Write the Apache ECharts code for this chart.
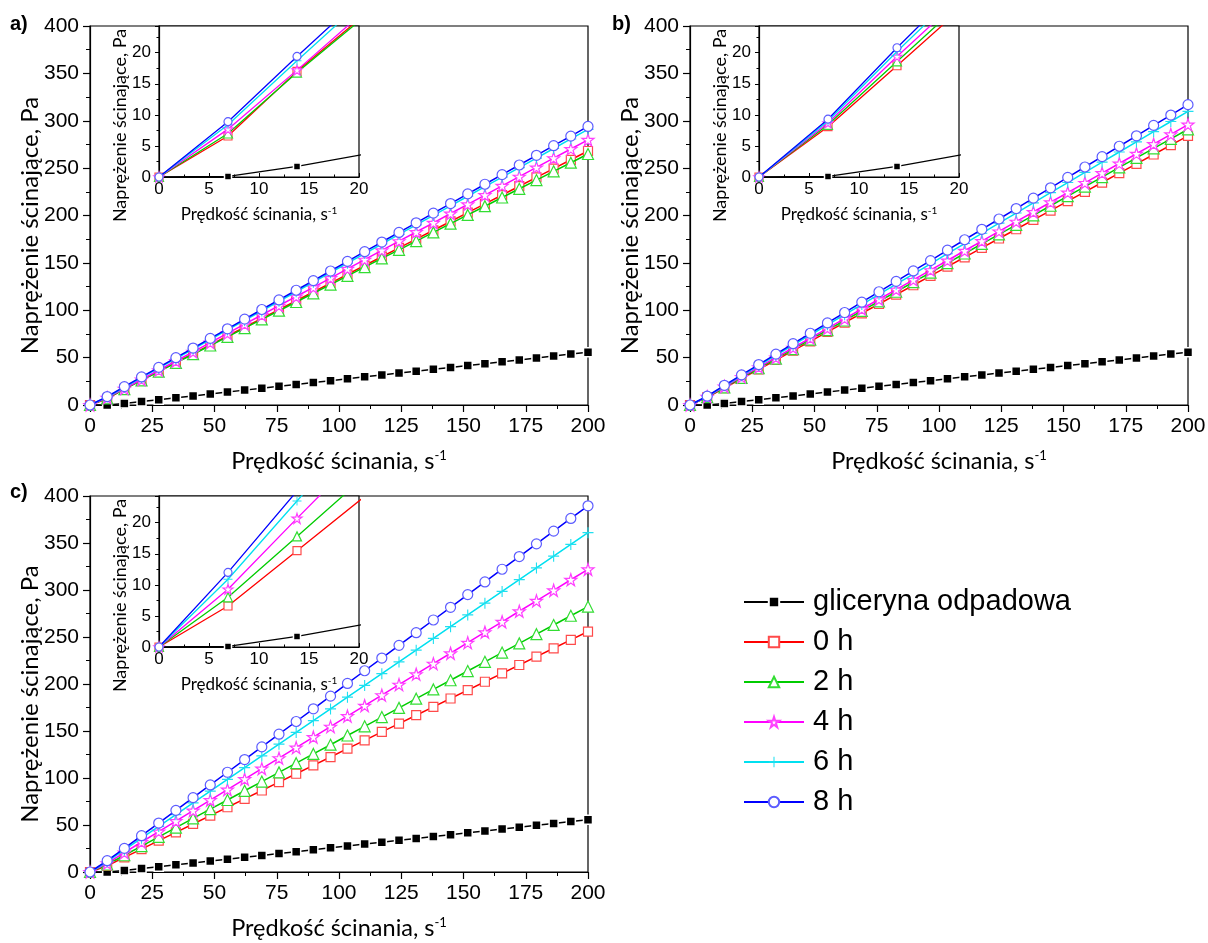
<!DOCTYPE html>
<html><head><meta charset="utf-8">
<script src="https://cdn.jsdelivr.net/npm/echarts@6/dist/echarts.min.js"></script>
<style>html,body{margin:0;padding:0;background:#fff}#c{width:1208px;height:943px}</style>
</head><body><div id="c"></div>
<script>
// ---- data ----
const shearRate = [0, 6.9, 13.8, 20.7, 27.6, 34.5, 41.4, 48.3, 55.2, 62.1, 69.0, 75.9, 82.8, 89.7, 96.6, 103.4, 110.3, 117.2, 124.1, 131.0, 137.9, 144.8, 151.7, 158.6, 165.5, 172.4, 179.3, 186.2, 193.1, 200.0];
const glycerol = [0, 0.1, 1.7, 3.7, 5.6, 7.7, 9.6, 11.7, 13.6, 15.7, 17.6, 19.7, 21.6, 23.7, 25.7, 27.6, 29.7, 31.6, 33.7, 35.6, 37.7, 39.6, 41.7, 43.6, 45.7, 47.6, 49.7, 51.6, 53.7, 55.6];

const a_0h = [0, 6.6, 17.0, 26.3, 35.6, 44.9, 54.2, 63.5, 72.8, 82.1, 91.4, 100.7, 110.0, 119.3, 128.6, 137.9, 147.2, 156.5, 165.8, 175.1, 184.4, 193.7, 203.0, 212.3, 221.6, 230.9, 240.2, 249.5, 258.8, 268.1];
const a_2h = [0, 7.0, 16.8, 26.0, 35.2, 44.4, 53.6, 62.8, 71.9, 81.1, 90.3, 99.5, 108.7, 117.9, 127.1, 136.3, 145.5, 154.7, 163.8, 173.0, 182.2, 191.4, 200.6, 209.8, 219.0, 228.2, 237.4, 246.6, 255.7, 264.9];
const a_4h = [0, 7.7, 17.2, 26.9, 36.7, 46.4, 56.1, 65.9, 75.6, 85.3, 95.0, 104.8, 114.5, 124.2, 134.0, 143.7, 153.4, 163.2, 172.9, 182.6, 192.3, 202.1, 211.8, 221.5, 231.3, 241.0, 250.7, 260.5, 270.2, 279.9];
const a_6h = [0, 8.4, 18.7, 28.8, 38.9, 48.9, 59.0, 69.1, 79.2, 89.3, 99.3, 109.4, 119.5, 129.6, 139.7, 149.7, 159.8, 169.9, 180.0, 190.1, 200.1, 210.2, 220.3, 230.4, 240.5, 250.5, 260.6, 270.7, 280.8, 290.9];
const a_8h = [0, 8.9, 19.4, 29.6, 39.7, 49.9, 60.1, 70.3, 80.4, 90.6, 100.8, 110.9, 121.1, 131.3, 141.4, 151.6, 161.8, 172.0, 182.1, 192.3, 202.5, 212.6, 222.8, 233.0, 243.1, 253.3, 263.5, 273.7, 283.8, 294.0];

const b_0h = [0, 8.1, 17.9, 27.8, 37.6, 47.5, 57.3, 67.2, 77.1, 86.9, 96.8, 106.6, 116.5, 126.4, 136.2, 146.1, 155.9, 165.8, 175.7, 185.5, 195.4, 205.2, 215.1, 225.0, 234.8, 244.7, 254.5, 264.4, 274.3, 284.1];
const b_2h = [0, 8.4, 18.6, 28.7, 38.8, 48.9, 59.0, 69.1, 79.1, 89.2, 99.3, 109.4, 119.5, 129.6, 139.7, 149.8, 159.9, 170.0, 180.0, 190.1, 200.2, 210.3, 220.4, 230.5, 240.6, 250.7, 260.8, 270.9, 280.9, 291.0];
const b_4h = [0, 8.7, 19.4, 29.6, 39.9, 50.1, 60.4, 70.6, 80.8, 91.1, 101.3, 111.6, 121.8, 132.0, 142.3, 152.5, 162.8, 173.0, 183.2, 193.5, 203.7, 214.0, 224.2, 234.4, 244.7, 254.9, 265.2, 275.4, 285.6, 295.9];
const b_6h = [0, 9.0, 20.2, 30.9, 41.7, 52.4, 63.1, 73.9, 84.6, 95.3, 106.0, 116.8, 127.5, 138.2, 149.0, 159.7, 170.4, 181.2, 191.9, 202.6, 213.3, 224.1, 234.8, 245.5, 256.3, 267.0, 277.7, 288.5, 299.2, 309.9];
const b_8h = [0, 9.3, 20.8, 31.8, 42.7, 53.7, 64.7, 75.7, 86.6, 97.6, 108.6, 119.5, 130.5, 141.5, 152.4, 163.4, 174.4, 185.4, 196.3, 207.3, 218.3, 229.2, 240.2, 251.2, 262.1, 273.1, 284.1, 295.1, 306.0, 317.0];

const c_0h = [0, 6.6, 15.5, 24.4, 33.3, 42.2, 51.1, 60.0, 68.9, 77.8, 86.7, 95.6, 104.5, 113.4, 122.3, 131.2, 140.1, 149.0, 157.9, 166.8, 175.7, 184.6, 193.5, 202.4, 211.3, 220.2, 229.1, 238.0, 246.9, 255.8];
const c_2h = [0, 8.0, 17.8, 27.6, 37.4, 47.2, 57.0, 66.8, 76.6, 86.4, 96.2, 106.0, 115.8, 125.6, 135.4, 145.2, 155.0, 164.8, 174.6, 184.4, 194.2, 204.0, 213.8, 223.6, 233.4, 243.2, 253.0, 262.8, 272.6, 282.4];
const c_4h = [0, 9.3, 20.7, 31.9, 43.0, 54.2, 65.3, 76.5, 87.7, 98.8, 110.0, 121.1, 132.3, 143.5, 154.6, 165.8, 176.9, 188.1, 199.3, 210.4, 221.6, 232.7, 243.9, 255.1, 266.2, 277.4, 288.5, 299.7, 310.9, 322.0];
const c_6h = [0, 10.9, 23.5, 36.0, 48.5, 61.0, 73.5, 86.0, 98.5, 111.0, 123.5, 136.0, 148.5, 161.0, 173.5, 186.0, 198.5, 211.0, 223.5, 236.0, 248.5, 261.0, 273.5, 286.0, 298.5, 311.0, 323.5, 336.0, 348.5, 361.0];
const c_8h = [0, 12.0, 25.1, 38.6, 52.1, 65.6, 79.1, 92.6, 106.1, 119.6, 133.1, 146.6, 160.1, 173.6, 187.1, 200.6, 214.1, 227.6, 241.1, 254.6, 268.1, 281.6, 295.1, 308.6, 322.1, 335.6, 349.1, 362.6, 376.1, 389.6];

const seriesNames = ['gliceryna odpadowa', '0 h', '2 h', '4 h', '6 h', '8 h'];
const panelLabels = ['a)', 'b)', 'c)'];
const xTitle = 'Prędkość ścinania, s';
const xTitleSup = '-1';
const yTitle = 'Naprężenie ścinające, Pa';
const mainXTicks = {min: 0, max: 200, interval: 25};
const mainYTicks = {min: 0, max: 400, interval: 50};
const insetXTicks = {min: 0, max: 20, interval: 5};
const insetYTicks = {min: 0, max: 24.3, interval: 5};

const panels = [
  [glycerol, a_0h, a_2h, a_4h, a_6h, a_8h],
  [glycerol, b_0h, b_2h, b_4h, b_6h, b_8h],
  [glycerol, c_0h, c_2h, c_4h, c_6h, c_8h]
];

// ---- styling ----
const STAR = 'path://M50,0 L61.2,34.5 L97.6,34.5 L68.2,55.9 L79.4,90.5 L50,69.1 L20.6,90.5 L31.8,55.9 L2.4,34.5 L38.8,34.5 Z';
const PLUS = 'path://M45,0 H55 V45 H100 V55 H55 V100 H45 V55 H0 V45 H45 Z';
const styles = [
  {line: '#000000', mark: '#000000', symbol: 'rect', size: 9, inSize: 7, filled: true},
  {line: '#ff0000', mark: '#ff4a4a', symbol: 'rect', size: 9, inSize: 8},
  {line: '#00cc00', mark: '#33dd33', symbol: 'triangle', size: 11, inSize: 9},
  {line: '#ff00ff', mark: '#ff40ff', symbol: STAR, size: 12, inSize: 10},
  {line: '#00e0f0', mark: '#20e0f0', symbol: PLUS, size: 11, inSize: 9, plus: true},
  {line: '#0000ff', mark: '#5c5cff', symbol: 'circle', size: 10, inSize: 8}
];
const tickFont = 'Liberation Sans, Arial, sans-serif';
const titleFont = 'Lato, Liberation Sans, sans-serif';

const mainGrids = [
  {left: 90, top: 26, width: 498, height: 379},
  {left: 690, top: 26, width: 498, height: 379},
  {left: 90, top: 496, width: 498, height: 376}
];
const insetGrids = [
  {left: 159, top: 26, width: 200, height: 151},
  {left: 759, top: 26, width: 200, height: 151},
  {left: 159, top: 496, width: 200, height: 151}
];

const grid = [];
mainGrids.forEach(g => grid.push(Object.assign({show: true, borderColor: '#000', borderWidth: 1.2, backgroundColor: 'transparent', outerBoundsMode: 'none', containLabel: false}, g)));
insetGrids.forEach(g => grid.push(Object.assign({show: true, borderColor: '#000', borderWidth: 1.2, backgroundColor: '#fff', outerBoundsMode: 'none', containLabel: false, z: 5}, g)));

function xName(size, supSize) {
  return {
    name: '{m|' + xTitle + '}{s|' + xTitleSup + '}',
    nameTextStyle: {rich: {
      m: {fontSize: size, fontFamily: titleFont, color: '#000'},
      s: {fontSize: supSize, fontFamily: titleFont, color: '#000', verticalAlign: 'top'}
    }}
  };
}

const xAxis = [], yAxis = [];
for (let p = 0; p < 3; p++) {
  xAxis.push(Object.assign({
    type: 'value', gridIndex: p, min: mainXTicks.min, max: mainXTicks.max, interval: mainXTicks.interval,
    nameLocation: 'middle', nameGap: 44, nameMoveOverlap: false,
    axisLine: {onZero: false, lineStyle: {color: '#000', width: 1.2}},
    axisTick: {show: true, inside: false, length: 7, lineStyle: {color: '#000', width: 1.2}},
    minorTick: {show: true, splitNumber: 2, length: 4, lineStyle: {color: '#000', width: 1}},
    splitLine: {show: false},
    axisLabel: {fontFamily: tickFont, fontSize: 21, color: '#000', margin: 11}
  }, xName(23.5, 13)));
  yAxis.push({
    type: 'value', gridIndex: p, min: mainYTicks.min, max: mainYTicks.max, interval: mainYTicks.interval,
    name: yTitle, nameLocation: 'middle', nameGap: 48, nameMoveOverlap: false,
    nameTextStyle: {fontFamily: titleFont, fontSize: 24, color: '#000', padding: [0, 20, 0, 0]},
    axisLine: {onZero: false, lineStyle: {color: '#000', width: 1.2}},
    axisTick: {show: true, inside: false, length: 7, lineStyle: {color: '#000', width: 1.2}},
    minorTick: {show: true, splitNumber: 2, length: 4, lineStyle: {color: '#000', width: 1}},
    splitLine: {show: false},
    axisLabel: {fontFamily: tickFont, fontSize: 21, color: '#000', margin: 11}
  });
}
for (let p = 0; p < 3; p++) {
  xAxis.push(Object.assign({
    type: 'value', gridIndex: 3 + p, min: insetXTicks.min, max: insetXTicks.max, interval: insetXTicks.interval,
    nameLocation: 'middle', nameGap: 29, nameMoveOverlap: false, z: 6,
    axisLine: {onZero: false, lineStyle: {color: '#000', width: 1.2}},
    axisTick: {show: true, inside: true, length: 4, lineStyle: {color: '#000', width: 1}},
    minorTick: {show: true, splitNumber: 2, length: 2.5, lineStyle: {color: '#000', width: 1}},
    splitLine: {show: false},
    axisLabel: {fontFamily: tickFont, fontSize: 17, color: '#000', margin: 4}
  }, xName(17, 10)));
  yAxis.push({
    type: 'value', gridIndex: 3 + p, min: insetYTicks.min, max: insetYTicks.max, interval: insetYTicks.interval,
    name: yTitle, nameLocation: 'middle', nameGap: 30, nameMoveOverlap: false, z: 6,
    nameTextStyle: {fontFamily: titleFont, fontSize: 18, color: '#000', padding: [0, 48, 0, 0]},
    axisLine: {onZero: false, lineStyle: {color: '#000', width: 1.2}},
    axisTick: {show: true, inside: false, length: 4, lineStyle: {color: '#000', width: 1}},
    minorTick: {show: true, splitNumber: 2, length: 2.5, lineStyle: {color: '#000', width: 1}},
    splitLine: {show: false},
    axisLabel: {fontFamily: tickFont, fontSize: 17, color: '#000', margin: 8, showMaxLabel: false}
  });
}

function itemStyleFor(st) {
  if (st.filled) return {color: st.mark, borderColor: '#fff', borderWidth: 1.5};
  if (st.plus) return {color: st.mark, borderWidth: 0};
  return {color: '#fff', borderColor: st.mark, borderWidth: 1.2};
}

const series = [];
for (let p = 0; p < 3; p++) {
  panels[p].forEach((vals, k) => {
    const st = styles[k];
    const data = shearRate.map((x, i) => [x, vals[i]]);
    series.push({
      type: 'line', name: seriesNames[k], xAxisIndex: p, yAxisIndex: p, data: data,
      symbol: st.symbol, symbolSize: st.size, showAllSymbol: true, clip: true,
      lineStyle: {color: st.line, width: 1.5}, itemStyle: itemStyleFor(st),
      z: 2 + k, emphasis: {disabled: true}
    });
    series.push({
      type: 'line', name: seriesNames[k], xAxisIndex: 3 + p, yAxisIndex: 3 + p, data: data,
      symbol: st.symbol, symbolSize: st.inSize, showAllSymbol: true, clip: true,
      lineStyle: {color: st.line, width: 1.3}, itemStyle: itemStyleFor(st),
      z: 10 + k, emphasis: {disabled: true}
    });
  });
}

const chart = echarts.init(document.getElementById('c'), null, {renderer: 'canvas'});
chart.setOption({
  backgroundColor: '#fff',
  animation: false,
  grid: grid, xAxis: xAxis, yAxis: yAxis, series: series,
  legend: {
    orient: 'vertical', left: 743, top: 587, padding: 0, itemWidth: 60, itemHeight: 13, itemGap: 10,
    selectedMode: false, data: seriesNames,
    textStyle: {fontFamily: tickFont, fontSize: 29, color: '#000', lineHeight: 30, padding: [0, 0, 0, 4]}
  },
  graphic: [
    {type: 'text', left: 10, top: 14, style: {text: panelLabels[0], font: 'bold 20px "Liberation Sans", Arial, sans-serif', fill: '#000'}},
    {type: 'text', left: 612, top: 14, style: {text: panelLabels[1], font: 'bold 20px "Liberation Sans", Arial, sans-serif', fill: '#000'}},
    {type: 'text', left: 10, top: 482, style: {text: panelLabels[2], font: 'bold 20px "Liberation Sans", Arial, sans-serif', fill: '#000'}}
  ]
});
</script></body></html>
